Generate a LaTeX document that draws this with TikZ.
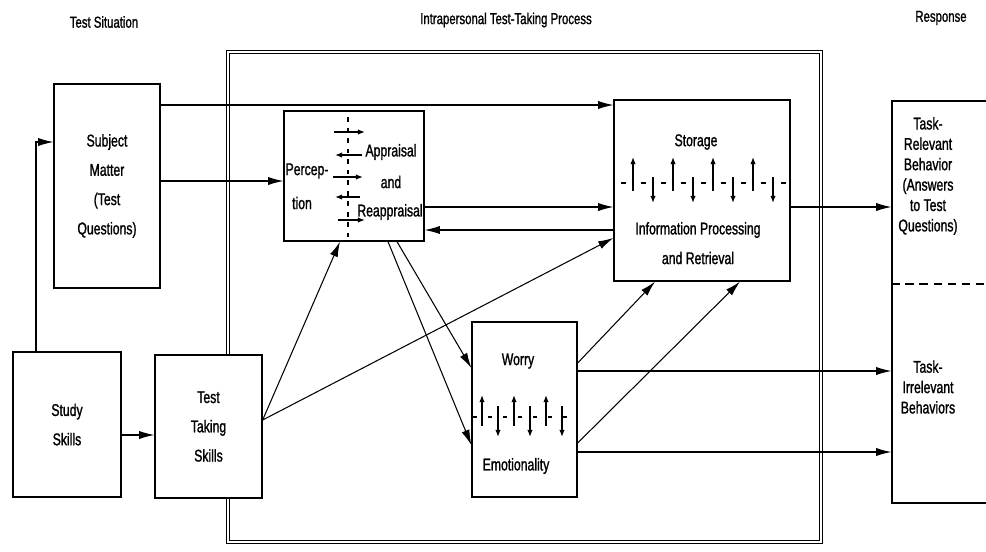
\documentclass[tikz,border=0pt]{standalone}
\usepackage{fontspec}
\setmainfont{Liberation Sans}[FakeStretch=0.72, FakeBold=1.2]
\usetikzlibrary{arrows.meta,positioning}

\begin{document}
\begin{tikzpicture}[x=0.03cm, y=-0.03cm,
  box/.style={draw, fill=white, line width=1.1pt, inner sep=0pt, align=center,
    font=\fontsize{14.5}{25}\selectfont},
  lbl/.style={inner sep=0pt, align=center, font=\fontsize{14.5}{17.4}\selectfont},
  hdr/.style={inner sep=0pt, font=\fontsize{13.5}{16}\selectfont},
  arr/.style={-{Latex[length=13pt,width=7pt]}, line width=0.9pt},
  tick/.style={-{Latex[length=6pt,width=4.5pt]}, line width=1pt},
  dsh/.style={line width=1pt}]
\useasboundingbox (0,0) rectangle (986,551);
\clip (0,0) rectangle (986,551);

% column headings
\node[hdr] (hsit) at (104,22) {Test Situation};
\node[hdr] (hproc) at (506,20) {Intrapersonal Test-Taking Process};
\node[hdr] (hresp) at (941,18) {Response};

% the process frame
\node[draw, double, double distance=1.8pt, line width=1pt,
  minimum width=17.79cm, minimum height=14.7cm] (proc) at (524.5,297) {};

% boxes
\node[box, minimum width=3.18cm, minimum height=6.12cm] (subj) at (107,186) {Subject\\Matter\\(Test\\Questions)};
\node[box, minimum width=3.24cm, minimum height=4.35cm] (study) at (67,424.5) {Study\\Skills};
\node[box, minimum width=3.21cm, minimum height=4.29cm] (skill) at (208.5,426.5) {Test\\Taking\\Skills};
\node[box, minimum width=4.2cm, minimum height=3.9cm] (perc) at (354,176) {};
\node[box, minimum width=5.28cm, minimum height=5.43cm] (stor) at (702,190.5) {};
\node[box, minimum width=3.15cm, minimum height=5.25cm] (worry) at (524.5,409.5) {};
\node[box, minimum width=3.54cm, minimum height=12.06cm] (resp) at (951,302) {};

% perception / appraisal
\node[lbl] (percA) at (307,171) {Percep-};
\node[lbl] (percB) at (302,203) {tion};
\node[lbl] (appr) at (391,152) {Appraisal};
\node[lbl] (andA) at (391,182) {and};
\node[lbl] (reap) at (390,212) {Reappraisal};
\draw[dash pattern=on 4pt off 5pt, line width=0.9pt] (348,117) -- (348,237);
\foreach \y/\a/\b in {132/334/365, 155/362/335, 177/333/363, 197/360/335, 220/338/365}
  \draw[tick] (\a,\y) -- (\b,\y);

% storage
\node[lbl] (storL) at (696,142) {Storage};
\node[lbl] (infoL) at (698,230) {Information Processing};
\node[lbl] (retrL) at (698,258) {and Retrieval};
\foreach \x in {633,673,713,753} \draw[tick] (\x,191) -- (\x,157);
\foreach \x in {653,693,733,773} \draw[tick] (\x,177) -- (\x,203);
\foreach \x in {623,643,...,783} \draw[dsh] (\x-2.5,183) -- (\x+2.5,183);

% worry / emotionality
\node[lbl] (worL) at (518,361) {Worry};
\node[lbl] (emoL) at (516,466) {Emotionality};
\foreach \x in {482,514,546} \draw[tick] (\x,426) -- (\x,395);
\foreach \x in {498,530,562} \draw[tick] (\x,406) -- (\x,437);
\foreach \x in {475,490,...,570} \draw[dsh] (\x-2,417) -- (\x+2,417);

% response
\node[lbl] (relL) at (928,176) {Task-\\Relevant\\Behavior\\(Answers\\to Test\\Questions)};
\node[lbl] (irrL) at (928,387) {Task-\\Irrelevant\\Behaviors};
\draw[dash pattern=on 7pt off 5pt, line width=0.9pt] (resp.west |- 0,284) -- (resp.east |- 0,284);

% connections
\draw[arr] (subj.east |- 0,105) -- (stor.west |- 0,105);
\draw[arr] (subj.east |- 0,181) -- (perc.west |- 0,181);
\draw[arr] (perc.east |- 0,207) -- (stor.west |- 0,207);
\draw[arr] (stor.west |- 0,230) -- (perc.east |- 0,230);
\draw[arr] (stor.east |- 0,207) -- (resp.west |- 0,207);
\draw[arr] (study.east |- 0,435) -- (skill.west |- 0,435);
\draw[arr] (study.north -| 36,0) |- (subj.west |- 0,142);
\draw[arr] (skill.east |- 0,420) -- (perc.south -| 340,0);
\draw[arr] (skill.east |- 0,420) -- (stor.west |- 0,238);
\draw[arr] (perc.south -| 388,0) -- (worry.west |- 0,445);
\draw[arr] (perc.south -| 397,0) -- (worry.west |- 0,368);
\draw[arr] (worry.east |- 0,363) -- (stor.south -| 655,0);
\draw[arr] (worry.east |- 0,443) -- (stor.south -| 740,0);
\draw[arr] (worry.east |- 0,371) -- (resp.west |- 0,371);
\draw[arr] (worry.east |- 0,452) -- (resp.west |- 0,452);
\end{tikzpicture}
\end{document}
